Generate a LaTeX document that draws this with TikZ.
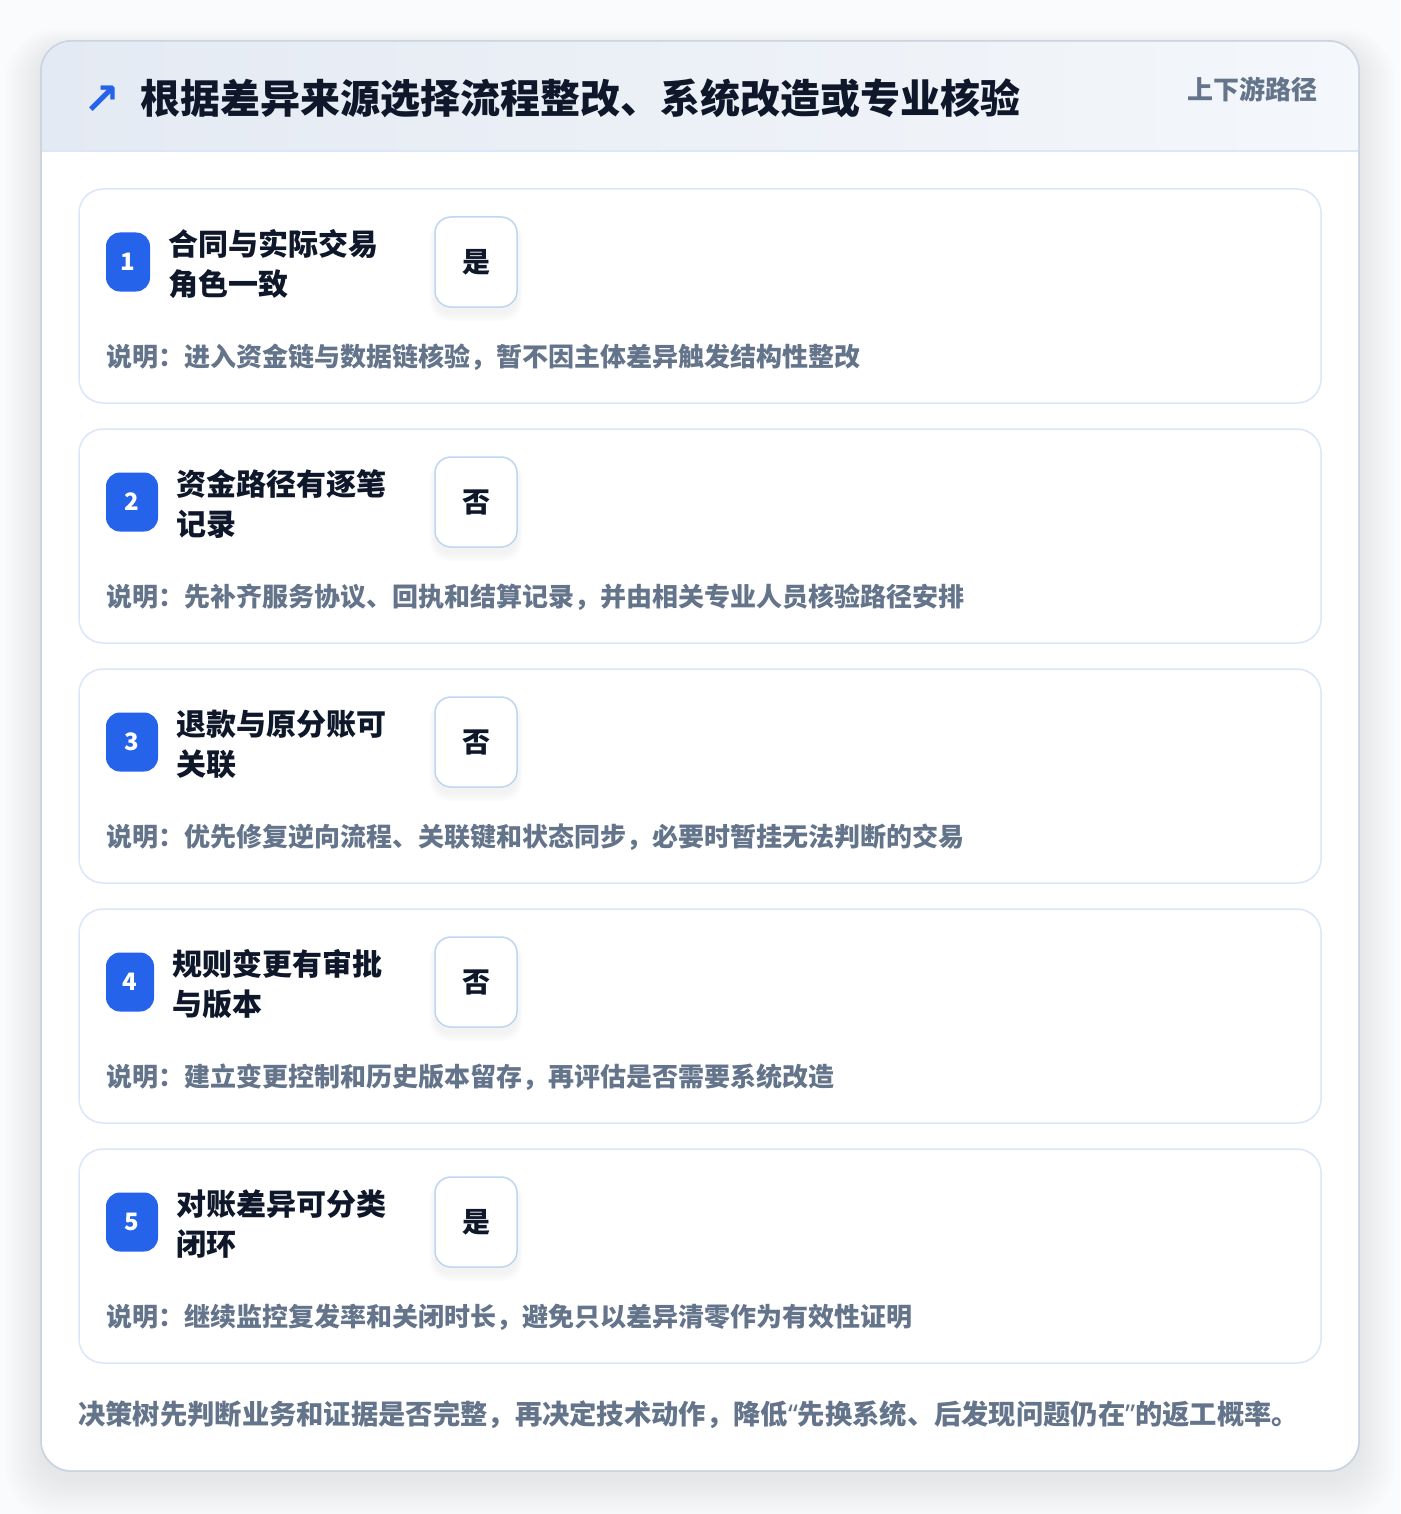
\documentclass[tikz,border=0pt]{standalone}
\usepackage{fontspec}
\setmainfont{Noto Sans CJK SC}
\newfontfamily\symfont{DejaVu Sans}
\newfontfamily\latinfont{Noto Sans}
\definecolor{pagebg}{HTML}{FAFBFC}
\definecolor{frameln}{HTML}{CBD5E1}
\definecolor{hdrL}{HTML}{E4EAF3}
\definecolor{hdrR}{HTML}{F4F7FB}
\definecolor{hdrline}{HTML}{DCE7F5}
\definecolor{cardln}{HTML}{DBE7F8}
\definecolor{ansln}{HTML}{BFD6F3}
\definecolor{accent}{HTML}{2563EB}
\definecolor{ink}{HTML}{0F172A}
\definecolor{muted}{HTML}{64748B}
\tikzset{
  frame/.style={draw=frameln, line width=1.5pt, fill=white, rounded corners=30pt, minimum width=1318pt, minimum height=1430pt, inner sep=0pt},
  card/.style={draw=cardln, line width=1.5pt, fill=white, rounded corners=24pt, minimum width=1242pt, minimum height=214pt, inner sep=0pt},
  badge/.style={fill=accent, rounded corners=14pt, minimum height=59pt, inner sep=0pt, text=white, font=\bfseries\fontsize{24}{26}\selectfont},
  lab/.style={anchor=west, align=left, inner sep=0pt, text=ink, font=\bfseries\fontsize{30}{40}\selectfont},
  ansbox/.style={draw=ansln, line width=1.5pt, fill=white, rounded corners=16pt, minimum width=82pt, minimum height=90pt, inner sep=0pt, text=ink, font=\bfseries\fontsize{28}{30}\selectfont},
  desc/.style={anchor=west, inner sep=0pt, text=muted, font=\bfseries\fontsize{26}{28}\selectfont},
}
\begin{document}
\begin{tikzpicture}[x=1pt,y=-1pt]
\useasboundingbox (0,0) rectangle (1400,1514);
\fill[pagebg] (0,0) rectangle (1400,1514);
% soft shadow of frame
\foreach \s in {1,...,20}{
  \fill[black, opacity=0.004, rounded corners=30pt+\s pt] (41-\s*1.8, 41-\s*1.0+8) rectangle (1359+\s*1.8, 1471+\s*2.0+8);
}
\node[frame] (frame) at (700,756) {};
\begin{scope}
  \clip[rounded corners=29pt] (41.75,41.75) rectangle (1358.25,1470.25);
  \shade[left color=hdrL, right color=hdrR] (41,41) rectangle (1359,151);
\end{scope}
\draw[hdrline, line width=1.5pt] (41.75,151) -- (1358.25,151);
\draw[frameln, line width=1.5pt, rounded corners=30pt] (41,41) rectangle (1359,1471);
\node[text=accent, font=\symfont\bfseries\fontsize{44}{46}\selectfont, inner sep=0pt] (icon) at (102,100) {↗};
\node[anchor=west, inner sep=0pt, text=ink, font=\bfseries\fontsize{40}{44}\selectfont] (title) at (140,98) {根据差异来源选择流程整改、系统改造或专业核验};
\node[anchor=east, inner sep=0pt, text=muted, font=\bfseries\fontsize{26}{28}\selectfont] (tag) at (1318,89) {上下游路径};
% cards
\foreach \i/\la/\lb/\ans/\bw/\txt in {
 1/合同与实际交易/角色一致/是/44/{说明：进入资金链与数据链核验，暂不因主体差异触发结构性整改},
 2/资金路径有逐笔/记录/否/52/{说明：先补齐服务协议、回执和结算记录，并由相关专业人员核验路径安排},
 3/退款与原分账可/关联/否/52/{说明：优先修复逆向流程、关联键和状态同步，必要时暂挂无法判断的交易},
 4/规则变更有审批/与版本/否/48/{说明：建立变更控制和历史版本留存，再评估是否需要系统改造},
 5/对账差异可分类/闭环/是/52/{说明：继续监控复发率和关闭时长，避免只以差异清零作为有效性证明}}{
  \pgfmathsetmacro{\top}{189+240*(\i-1)}
  \node[card] (card\i) at (700,\top+107) {};
  \node[badge, minimum width=\bw pt] (badge\i) at (106+\bw/2,\top+73) {\i};
  \node[lab] (lab\i) at ([xshift=18pt]badge\i.east |- 0,\top+75) {\la\\\lb};
  \foreach \k in {1,...,6}{
    \fill[black, opacity=0.007, rounded corners=16pt+\k pt] (435-\k, \top+28-\k+6) rectangle (517+\k, \top+118+\k*1.5+6);
  }
  \node[ansbox] (ans\i) at (476,\top+73) {\ans};
  \node[desc] (desc\i) at (106,\top+168) {\txt};
}
\node[anchor=west, inner sep=0pt, text=muted, font=\bfseries\fontsize{27.3}{29}\selectfont] (foot) at (78,1415) {决策树先判断业务和证据是否完整，再决定技术动作，降低{\latinfont“}先换系统、后发现问题仍在{\latinfont”}的返工概率。};
\end{tikzpicture}
\end{document}
